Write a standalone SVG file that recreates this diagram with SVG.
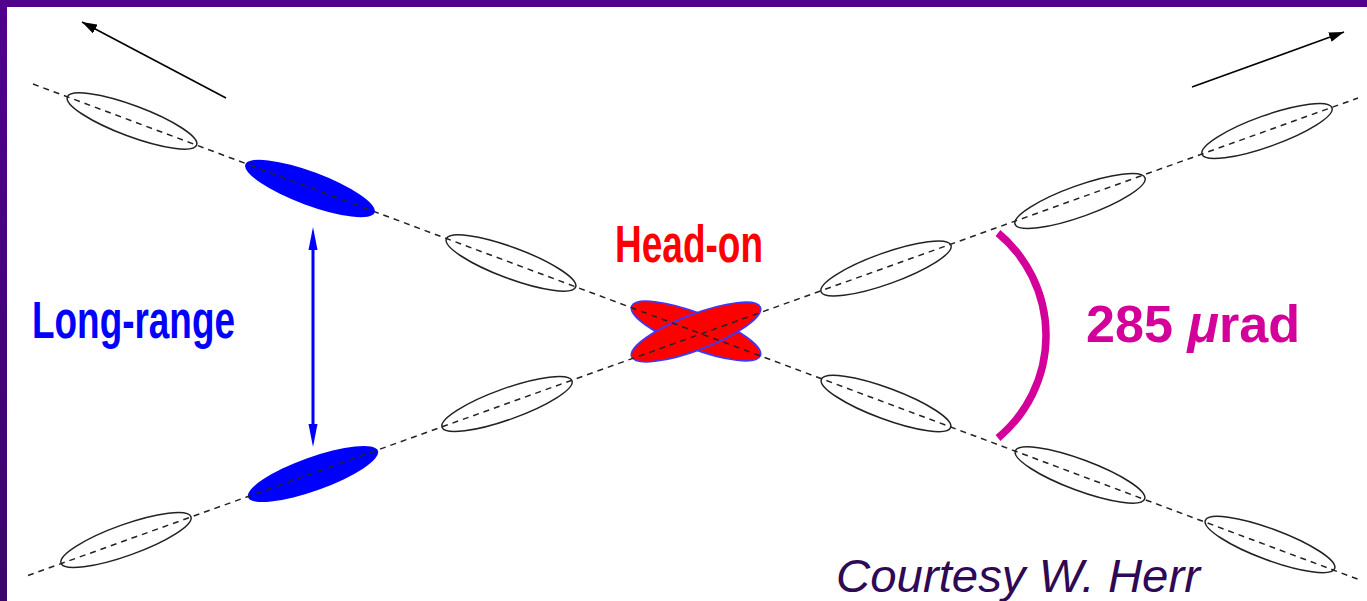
<svg xmlns="http://www.w3.org/2000/svg" width="1367" height="601" viewBox="0 0 1367 601">
  <defs>
    <linearGradient id="border" x1="0" y1="0" x2="0" y2="1">
      <stop offset="0" stop-color="#52008e"/>
      <stop offset="1" stop-color="#3a0668"/>
    </linearGradient>
    <marker id="blackHead" markerUnits="userSpaceOnUse" markerWidth="16" markerHeight="10" refX="15" refY="5" orient="auto">
      <path d="M0,0 L15,5 L0,10 z" fill="#000"/>
    </marker>
    <ellipse id="bunch" cx="0" cy="0" rx="69" ry="15.5"/>
  </defs>
  <style>
    .beam { stroke: #222; stroke-width: 1.5; stroke-dasharray: 6 5; fill: none; }
    .outline { fill: #fff; stroke: #222; stroke-width: 1.5; }
    .blue { fill: #0000ff; stroke: none; }
    .red { fill: #ff0000; stroke: #3a3aff; stroke-width: 1.5; }
    .dir { stroke: #000; stroke-width: 1.6; fill: none; marker-end: url(#blackHead); }
    .narrow { font-family: "Liberation Sans", Arial, sans-serif; font-weight: bold; font-size: 51px; }
  </style>

  <!-- background and frame -->
  <rect x="0" y="0" width="1367" height="601" fill="url(#border)"/>
  <rect x="7" y="7" width="1360" height="594" fill="#fff"/>

  <!-- bunches on beam 1 (top-left to bottom-right) -->
  <g id="beam1-bunch1"><use href="#bunch" class="outline" transform="translate(132,121) rotate(20.42)"/></g>
  <g id="beam1-bunch2-longrange"><use href="#bunch" class="blue" transform="translate(310,188.5) rotate(20.42) scale(1,1.08)"/></g>
  <g id="beam1-bunch3"><use href="#bunch" class="outline" transform="translate(511,263) rotate(20.42)"/></g>
  <g id="beam1-bunch5"><use href="#bunch" class="outline" transform="translate(886,403.5) rotate(20.42)"/></g>
  <g id="beam1-bunch6"><use href="#bunch" class="outline" transform="translate(1080,475) rotate(20.42)"/></g>
  <g id="beam1-bunch7"><use href="#bunch" class="outline" transform="translate(1270,544.5) rotate(20.42)"/></g>

  <!-- bunches on beam 2 (bottom-left to top-right) -->
  <g id="beam2-bunch1"><use href="#bunch" class="outline" transform="translate(126,540) rotate(-19.72)"/></g>
  <g id="beam2-bunch2-longrange"><use href="#bunch" class="blue" transform="translate(313,474) rotate(-19.72) scale(1,1.08)"/></g>
  <g id="beam2-bunch3"><use href="#bunch" class="outline" transform="translate(507,404) rotate(-19.72)"/></g>
  <g id="beam2-bunch5"><use href="#bunch" class="outline" transform="translate(886,268.5) rotate(-19.72)"/></g>
  <g id="beam2-bunch6"><use href="#bunch" class="outline" transform="translate(1080,201) rotate(-19.72)"/></g>
  <g id="beam2-bunch7"><use href="#bunch" class="outline" transform="translate(1267,131) rotate(-19.72)"/></g>

  <!-- head-on bunches -->
  <g id="headon-bunches">
    <use href="#bunch" class="red" transform="translate(696,331) rotate(21) scale(1,1.15)"/>
    <use href="#bunch" class="red" transform="translate(696,332) rotate(-21) scale(1,1.15)"/>
  </g>

  <!-- connectors: beam lines, direction arrows, separation arrow, crossing angle arc -->
  <g id="connectors">
    <line class="beam" x1="33" y1="84" x2="1360" y2="580"/>
    <line class="beam" x1="28" y1="575.5" x2="1358" y2="98"/>
    <line class="dir" x1="226" y1="98" x2="82" y2="22"/>
    <line class="dir" x1="1192" y1="87" x2="1344" y2="32"/>
    <line x1="313" y1="246" x2="313" y2="428" stroke="#0000ff" stroke-width="3"/>
    <path d="M313,227 L317.5,250 L308.5,250 z" fill="#0000ff"/>
    <path d="M313,447 L317.5,424 L308.5,424 z" fill="#0000ff"/>
    <path d="M998,233 A133.4,133.4 0 0 1 998,438" fill="none" stroke="#d4009a" stroke-width="7.5"/>
  </g>

  <!-- labels -->
  <g id="label-longrange">
    <text class="narrow" x="32" y="338" fill="#0000ff" textLength="203" lengthAdjust="spacingAndGlyphs">Long-range</text>
  </g>
  <g id="label-headon">
    <text class="narrow" x="615" y="262" fill="#ff0000" textLength="148" lengthAdjust="spacingAndGlyphs">Head-on</text>
  </g>
  <g id="label-angle">
    <text x="1086" y="342" fill="#d4009a" font-family="Liberation Sans, Arial, sans-serif" font-weight="bold" font-size="52" textLength="214" lengthAdjust="spacingAndGlyphs">285 <tspan font-style="italic">μ</tspan>rad</text>
  </g>
  <g id="label-courtesy">
    <text x="836" y="592" fill="#2e0a55" font-family="Liberation Sans, Arial, sans-serif" font-style="italic" font-size="46" textLength="364" lengthAdjust="spacingAndGlyphs">Courtesy W. Herr</text>
  </g>
</svg>
